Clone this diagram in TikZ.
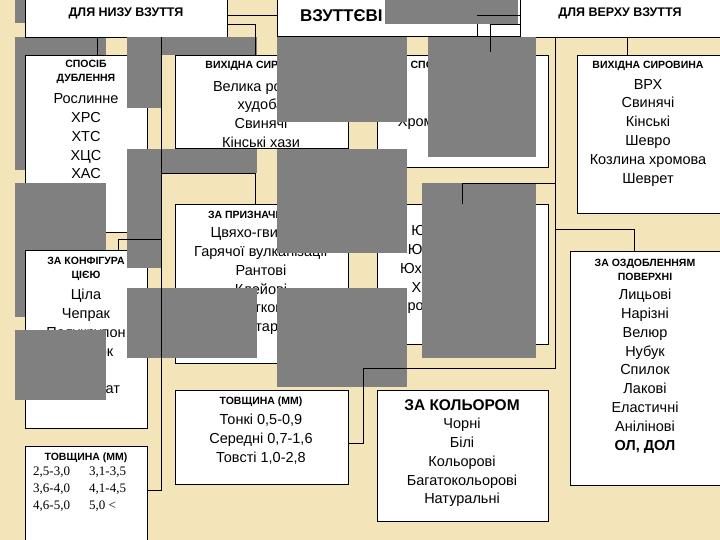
\documentclass[tikz,border=0pt]{standalone}
\usepackage{fontspec}
\setmainfont{Liberation Sans}
\newfontfamily\numf{Liberation Serif}
\definecolor{bg}{RGB}{244,228,186}
\definecolor{gr}{RGB}{128,128,128}
\begin{document}
\begin{tikzpicture}[x=1pt,y=-1pt,
  bx/.style={draw=black,fill=white,line width=0.6pt},
  gry/.style={fill=gr},
  ln/.style={draw=black,line width=0.6pt},
  hd/.style={font=\bfseries\fontsize{10.5}{14}\selectfont,align=center,inner sep=0pt},
  it/.style={font=\fontsize{14.5}{18.8}\selectfont,align=center,anchor=north,inner sep=0pt}]
\useasboundingbox (0,0) rectangle (720,540);
\fill[bg] (0,0) rectangle (720,540);
% background grays
\fill[gry] (15,0) rectangle (25,23);
\fill[gry] (15,37) rectangle (106,55);
\fill[gry] (15,55) rectangle (25,170);
% top boxes
\draw[bx] (25,-1) rectangle (227,37);
\node[hd,font=\bfseries\fontsize{12.5}{14}\selectfont] (tl) at (126,13) {ДЛЯ НИЗУ ВЗУТТЯ};
\draw[bx] (277,-1) rectangle (520,36);
\node[font=\bfseries\fontsize{17}{18}\selectfont,anchor=west,inner sep=0pt] (tc) at (300,16) {ВЗУТТЄВІ ШКІРИ};
\draw[bx] (520,-1) rectangle (721,37);
\node[hd,font=\bfseries\fontsize{12.5}{14}\selectfont] (tr) at (620,13) {ДЛЯ ВЕРХУ ВЗУТТЯ};
% B1
\draw[bx] (25,55) rectangle (147,232);
\node[hd] at (86,72) {СПОСІБ\\ДУБЛЕННЯ};
\node[it] at (86,93.5) {Рослинне\\ХРС\\ХТС\\ХЦС\\ХАС\\ХЦрС};
\fill[gry] (15,183) rectangle (106,317);
% B2
\draw[bx] (175,55) rectangle (348,148);
\node[hd] at (261,66) {ВИХІДНА СИРОВИНА};
\node[it] at (261,81) {Велика рогата\\худоба\\Свинячі\\Кінські хази};
% B3
\draw[bx] (377,55) rectangle (548,167);
\node[hd] at (462,66) {СПОСІБ ДУБЛЕННЯ};
\node[it] at (462,79) {Рослинне\\Хромове\\Хромово-рослинне};
% B4
\draw[bx] (577,55) rectangle (721,213);
\node[hd] at (648,66) {ВИХІДНА СИРОВИНА};
\node[it] at (648,79) {ВРХ\\Свинячі\\Кінські\\Шевро\\Козлина хромова\\Шеврет};
% B5
\draw[bx] (175,204) rectangle (348,363);
\node[hd] at (261,215) {ЗА ПРИЗНАЧЕННЯМ};
\node[it] at (261,227) {Цвяхо-гвинтові\\Гарячої вулканізації\\Рантові\\Клейові\\Ниткові\\Кустарні};
% B6
\draw[bx] (377,204) rectangle (548,344);
\node[hd] at (462,215) {ЗА ТИПОМ};
\node[it] at (462,225) {Юфть хромова\\Юфть рослинна\\Юхта комбінована\\Хромова шкіра\\Хромово-рослинна};
% B7
\draw[bx] (25,250) rectangle (147,428);
\node[hd] at (86,269) {ЗА КОНФІГУРА\\ЦІЄЮ};
\node[it] at (86,289) {Ціла\\Чепрак\\Полукрупон\\Вороток\\Пола\\Напівплат};
% B8
\draw[bx] (25,446) rectangle (147,541);
\node[hd] at (86,458) {ТОВЩИНА (ММ)};
\node[font=\numf\fontsize{13}{17}\selectfont,align=left,anchor=north west,inner sep=0pt] at (33,467) {2,5-3,0\\3,6-4,0\\4,6-5,0};
\node[font=\numf\fontsize{13}{17}\selectfont,align=left,anchor=north west,inner sep=0pt] at (89,467) {3,1-3,5\\4,1-4,5\\5,0 <};
% B9
\draw[bx] (175,390) rectangle (348,484);
\node[hd] at (261,402) {ТОВЩИНА (ММ)};
\node[it] at (261,414) {Тонкі 0,5-0,9\\Середні 0,7-1,6\\Товсті 1,0-2,8};
% B10
\draw[bx] (377,390) rectangle (548,521);
\node[font=\bfseries\fontsize{15.5}{16}\selectfont,inner sep=0pt] at (462,405) {ЗА КОЛЬОРОМ};
\node[it] at (462,418) {Чорні\\Білі\\Кольорові\\Багатокольорові\\Натуральні};
% B11
\draw[bx] (570,251) rectangle (721,485);
\node[hd] at (645,270) {ЗА ОЗДОБЛЕННЯМ\\ПОВЕРХНІ};
\node[it] at (645,289) {Лицьові\\Нарізні\\Велюр\\Нубук\\Спилок\\Лакові\\Еластичні\\Анілінові\\\textbf{ОЛ, ДОЛ}};
% overlay grays
\fill[gry] (127,37) rectangle (161,108);
\fill[gry] (161,37) rectangle (257,55);
\fill[gry] (127,149) rectangle (161,268);
\fill[gry] (161,149) rectangle (257,173);
\fill[gry] (127,288) rectangle (257,358);
\fill[gry] (277,37) rectangle (407,122);
\fill[gry] (277,149) rectangle (407,253);
\fill[gry] (277,288) rectangle (407,387);
\fill[gry] (428,37) rectangle (536,157);
\fill[gry] (422,183) rectangle (536,358);
\fill[gry] (385,0) rectangle (518,24);
\fill[gry] (15,330) rectangle (106,400);
% connectors
\coordinate (a1) at (97,37);
\draw[ln] (a1) -- (97,55);
\draw[ln] (161,37) -- (161,490) -- (147,490);
\draw[ln] (161,173) -- (255,173) -- (255,204);
\draw[ln] (161,239) -- (118,239) -- (118,250);
\draw[ln] (227,15) -- (277,15);
\draw[ln] (227,24) -- (255,24) -- (255,55);
\draw[ln] (477,15) -- (520,15);
\draw[ln] (477,24) -- (477,36);
\draw[ln] (490,24) -- (520,24);
\draw[ln] (490,24) -- (490,52);
\draw[ln] (555,37) -- (555,368) -- (363,368) -- (363,443) -- (348,443);
\draw[ln] (627,37) -- (627,55);
\draw[ln] (555,183) -- (462,183) -- (462,204);
\draw[ln] (555,229) -- (634,229) -- (634,251);
\end{tikzpicture}
\end{document}
